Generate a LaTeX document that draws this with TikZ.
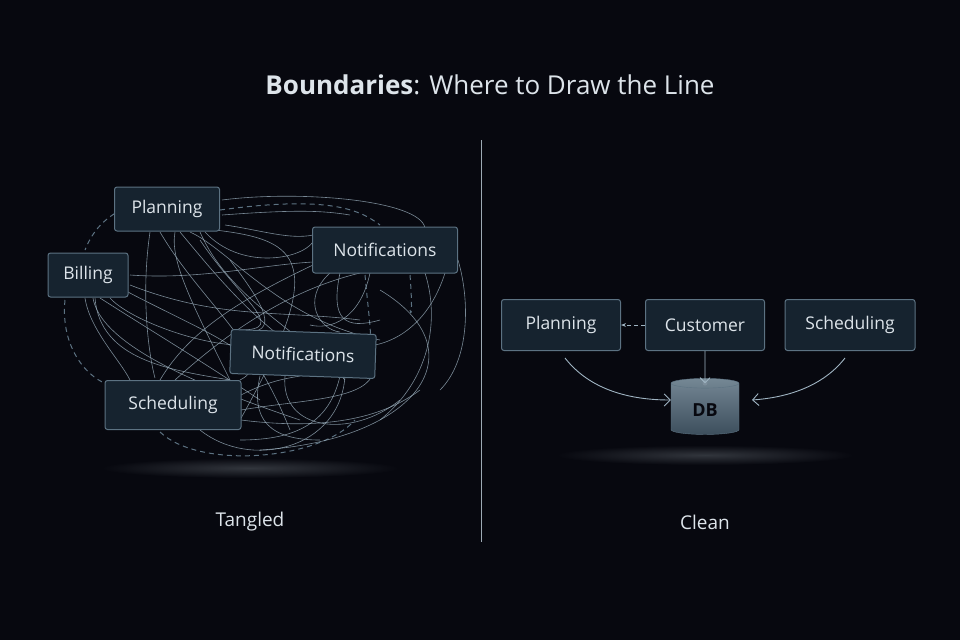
\documentclass[tikz,border=0pt]{standalone}
\usepackage{fontspec}
\setmainfont{Open Sans}
\usetikzlibrary{arrows.meta,shapes.geometric}
\definecolor{bg}{HTML}{07080F}
\definecolor{boxf}{HTML}{16232F}
\definecolor{boxd}{HTML}{5C7282}
\definecolor{txt}{HTML}{DDE4EA}
\definecolor{wire}{HTML}{9FB4C2}
\begin{document}
\begin{tikzpicture}[x=1pt,y=-1pt,
  box/.style={draw=boxd,fill=boxf,rounded corners=2.5pt,line width=1pt,text=txt,font=\fontsize{17.5}{20}\selectfont,inner sep=0pt},
  w/.style={draw=wire,line width=0.6pt,opacity=0.75},
  dsh/.style={draw=boxd,line width=1pt,dashed,dash pattern=on 5pt off 4pt}]
\fill[bg] (0,0) rectangle (960,640);
\useasboundingbox (0,0) rectangle (960,640);
\shade[inner color=boxf!60,outer color=bg,opacity=0.4] (250,468) ellipse (150 and 10);
\shade[inner color=boxf!60,outer color=bg,opacity=0.4] (705,455) ellipse (150 and 10);
\node[text=txt,font=\fontsize{26}{30}\selectfont] (title) at (490,85) {\textbf{Boundaries}: Where to Draw the Line};
\draw[boxd!60,line width=0.8pt] (481,140) -- (481,542);
\node[text=txt,font=\fontsize{19}{22}\selectfont] (tl) at (250,522) {Tangled};
\node[text=txt,font=\fontsize{19}{22}\selectfont] (cl) at (705,522) {Clean};
\coordinate (P) at (167,209);
\coordinate (N1) at (385,250);
\coordinate (B) at (88,275);
\coordinate (N2) at (303,354);
\coordinate (S) at (173,405);
% dashed boundary
\draw[dsh] (220,210) .. controls (330,195) and (360,210) .. (380,225);
\draw[dsh] (130,205) .. controls (110,215) and (95,225) .. (85,250);
\draw[dsh] (65,300) .. controls (60,350) and (90,380) .. (110,385);
\draw[dsh] (160,432) .. controls (200,470) and (320,460) .. (355,420);
\draw[dsh] (365,275) .. controls (370,330) and (375,350) .. (365,380);
\draw[dsh] (410,275) .. controls (412,300) and (412,320) .. (410,310);
\begin{scope}[w]
\draw (222,215) .. controls (290,210) and (320,210) .. (350,215);
\draw (215,230) .. controls (300,240) and (330,260) .. (240,420);
\draw (150,232) .. controls (140,300) and (150,360) .. (155,378);
\draw (160,232) .. controls (200,300) and (250,330) .. (290,430);
\draw (180,232) .. controls (220,280) and (260,330) .. (330,370);
\draw (190,232) .. controls (230,250) and (280,320) .. (380,340);
\draw (200,232) .. controls (230,300) and (300,330) .. (345,380);
\draw (175,232) .. controls (170,260) and (190,300) .. (230,380);
\draw (205,232) .. controls (240,270) and (300,260) .. (313,242);
\draw (225,225) .. controls (260,230) and (290,240) .. (313,235);
\draw (130,275) .. controls (200,280) and (260,265) .. (313,262);
\draw (130,285) .. controls (220,320) and (280,310) .. (360,320);
\draw (128,292) .. controls (200,330) and (280,360) .. (240,380);
\draw (95,298) .. controls (100,360) and (170,370) .. (230,380);
\draw (100,298) .. controls (150,330) and (200,360) .. (260,400);
\draw (93,298) .. controls (100,340) and (180,380) .. (300,420);
\draw (85,298) .. controls (90,330) and (120,360) .. (130,380);
\draw (110,298) .. controls (130,320) and (200,345) .. (240,345);
\draw (160,380) .. controls (190,330) and (240,300) .. (313,265);
\draw (175,380) .. controls (230,330) and (290,290) .. (360,273);
\draw (330,273) .. controls (300,300) and (320,330) .. (340,332);
\draw (340,273) .. controls (330,320) and (345,330) .. (380,320);
\draw (370,273) .. controls (360,320) and (330,330) .. (310,325);
\draw (425,273) .. controls (440,320) and (430,380) .. (380,420);
\draw (445,273) .. controls (430,320) and (400,340) .. (375,345);
\draw (458,260) .. controls (470,300) and (470,360) .. (440,390);
\draw (380,290) .. controls (480,350) and (420,440) .. (260,450);
\draw (241,395) .. controls (270,380) and (290,378) .. (300,376);
\draw (241,410) .. controls (300,400) and (360,400) .. (372,376);
\draw (241,420) .. controls (320,430) and (380,420) .. (420,390);
\draw (200,430) .. controls (250,470) and (340,450) .. (345,376);
\draw (260,376) .. controls (250,420) and (270,440) .. (320,440);
\draw (285,376) .. controls (280,430) and (350,440) .. (400,400);
\draw (340,376) .. controls (330,420) and (300,440) .. (240,440);
\draw (222,200) .. controls (300,190) and (420,200) .. (425,228);
\draw (200,240) .. controls (240,300) and (290,330) .. (240,330);
\draw (230,260) .. controls (260,300) and (280,330) .. (250,332);
\end{scope}
\node[box,minimum width=105,minimum height=44] (planL) at (P) {Planning};
\node[box,minimum width=145,minimum height=46] (notA) at (N1) {Notifications};
\node[box,minimum width=80,minimum height=44] (bill) at (B) {Billing};
\node[box,minimum width=145,minimum height=44,rotate=-2] (notB) at (N2) {Notifications};
\node[box,minimum width=136,minimum height=49] (schL) at (S) {Scheduling};
\node[box,minimum width=119,minimum height=51] (planR) at (561,325) {Planning};
\node[box,minimum width=119,minimum height=51] (cust) at (705,325) {Customer};
\node[box,minimum width=130,minimum height=51] (schR) at (850,325) {Scheduling};
\node[cylinder,shape border rotate=90,aspect=0.3,draw=boxd,top color=boxd!85,bottom color=boxd!55!boxf,minimum width=68,minimum height=56,font=\bfseries\fontsize{18}{20}\selectfont,text=bg] (db) at (705,410) {DB};
\fill[boxd!80] (705,383) circle (2.5);
\draw[-{Stealth[length=5pt]},wire,line width=0.9pt,dashed,dash pattern=on 4pt off 3pt] (cust.west) -- (planR.east);
\draw[-{Straight Barb[length=5pt]},wire,line width=0.9pt] (cust.south) -- ([yshift=-5]db.north);
\draw[-{Straight Barb[length=6pt]},wire,line width=0.9pt] (565,358) .. controls (590,390) and (630,400) .. (db.west |- 0,400);
\draw[-{Straight Barb[length=6pt]},wire,line width=0.9pt] (845,358) .. controls (820,390) and (780,398) .. (752,400);
\end{tikzpicture}
\end{document}
